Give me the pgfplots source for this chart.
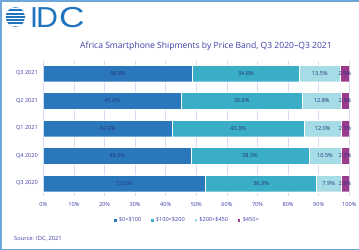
\documentclass[border=0pt]{standalone}
\usepackage{pgfplots}
\usepackage{pgfplotstable}
\usepackage{fontspec}
\setmainfont{Open Sans}
\newfontfamily\logofont{Liberation Sans}
\pgfplotsset{compat=1.18}

\definecolor{bandA}{HTML}{2A78BB}
\definecolor{bandB}{HTML}{3AAEC6}
\definecolor{bandC}{HTML}{A5DCE5}
\definecolor{bandD}{HTML}{9A3B8E}
\definecolor{inkblue}{HTML}{3D3DA6}
\definecolor{valtext}{HTML}{24337A}
\definecolor{gridc}{HTML}{D9D9F3}
\definecolor{framec}{HTML}{6FA6D9}
\definecolor{logoblue}{HTML}{1F74BD}

% share of shipments (%) per price band; pos 0 = Q3 2020 ... 4 = Q3 2021
\pgfplotstableread{
pos lo   mid  hi   top
0   53.0 36.3 7.9  2.8
1   48.3 38.5 10.5 2.7
2   42.0 43.3 12.0 2.7
3   45.0 39.6 12.8 2.5
4   48.8 34.8 13.5 2.9
}\shares

% one stacked segment in colour #1, value label centred on it
\pgfplotsset{
  segment/.style={
    fill=#1, draw=white, line width=0.3bp,
    nodes near coords style={anchor=center},
  },
}

\begin{document}
\begin{tikzpicture}
\useasboundingbox (0,0) rectangle (359bp,-250bp);
% frame
\draw[framec, line width=1.5bp] (359bp,-0.75bp) -- (0.75bp,-0.75bp) -- (0.75bp,-249.25bp) -- (359bp,-249.25bp);
% logo
\begin{scope}
  \clip (15.5bp,-17bp) circle (9.8bp);
  \fill[logoblue] (15.5bp,-17bp) circle (9.8bp);
  \foreach \yy in {-8.6,-11.9,-15.2,-18.5,-21.8,-25.1} {
    \draw[white, line width=1.3bp] (5bp,\yy bp) -- (27bp,\yy bp);
  }
\end{scope}
\node[anchor=base west, inner sep=0, text=logoblue, font=\logofont\fontsize{29}{29}\selectfont] at (30bp,-27.5bp) {I};
\node[anchor=base west, inner sep=0, text=logoblue, xscale=1.05, font=\logofont\fontsize{29}{29}\selectfont] at (36bp,-27.5bp) {D};
\node[anchor=base west, inner sep=0, text=logoblue, xscale=1.22, font=\logofont\fontsize{29}{29}\selectfont] at (59bp,-27.5bp) {C};
% title
\node[text=inkblue, font=\fontsize{8.6}{10}\selectfont] at (206bp,-46bp) {Africa Smartphone Shipments by Price Band, Q3 2020–Q3 2021};
% source
\node[anchor=base west, inner sep=0, text=inkblue, font=\fontsize{5.8}{7}\selectfont] at (14bp,-240bp) {Source: IDC, 2021};

\begin{axis}[
  at={(43.3bp,-196bp)}, anchor=south west,
  scale only axis, width=306bp, height=135bp,
  xbar stacked, bar width=16.7bp,
  xmin=0, xmax=100, ymin=-0.46, ymax=4.45,
  xtick={0,10,...,100},
  xticklabels={0\%,10\%,20\%,30\%,40\%,50\%,60\%,70\%,80\%,90\%,100\%},
  ytick={0,...,4},
  yticklabels={Q3 2020,Q4 2020,Q1 2021,Q2 2021,Q3 2021},
  axis line style={draw=none}, major tick length=0,
  xmajorgrids, grid style={gridc, line width=0.7bp},
  ticklabel style={font=\fontsize{5.6}{6}\selectfont, text=inkblue},
  xticklabel style={yshift=-3bp},
  yticklabel style={xshift=-2bp},
  point meta=explicit,
  nodes near coords={\pgfmathprintnumber[fixed,fixed zerofill,precision=1,assume math mode=true]{\pgfplotspointmeta}\%},
  every node near coord/.append style={font=\fontsize{5.6}{6}\selectfont, text=valtext, inner sep=0},
  legend columns=4,
  legend style={at={(0.228,-0.178)}, anchor=west, draw=none, fill=none, inner sep=0,
    font=\fontsize{5.6}{6}\selectfont, text=inkblue,
    /tikz/every even column/.append style={column sep=7bp}},
  legend image code/.code={\fill[#1] (0bp,-1.7bp) rectangle (3.4bp,1.7bp);},
]
\addplot[segment=bandA] table[x=lo, y=pos, meta=lo] {\shares};
\addlegendentry{\$0<\$100}
\addplot[segment=bandB] table[x=mid, y=pos, meta=mid] {\shares};
\addlegendentry{\$100<\$200}
\addplot[segment=bandC] table[x=hi, y=pos, meta=hi] {\shares};
\addlegendentry{\$200<\$450}
\addplot[segment=bandD] table[x=top, y=pos, meta=top] {\shares};
\addlegendentry{\$450+}
\end{axis}
\end{tikzpicture}
\end{document}
